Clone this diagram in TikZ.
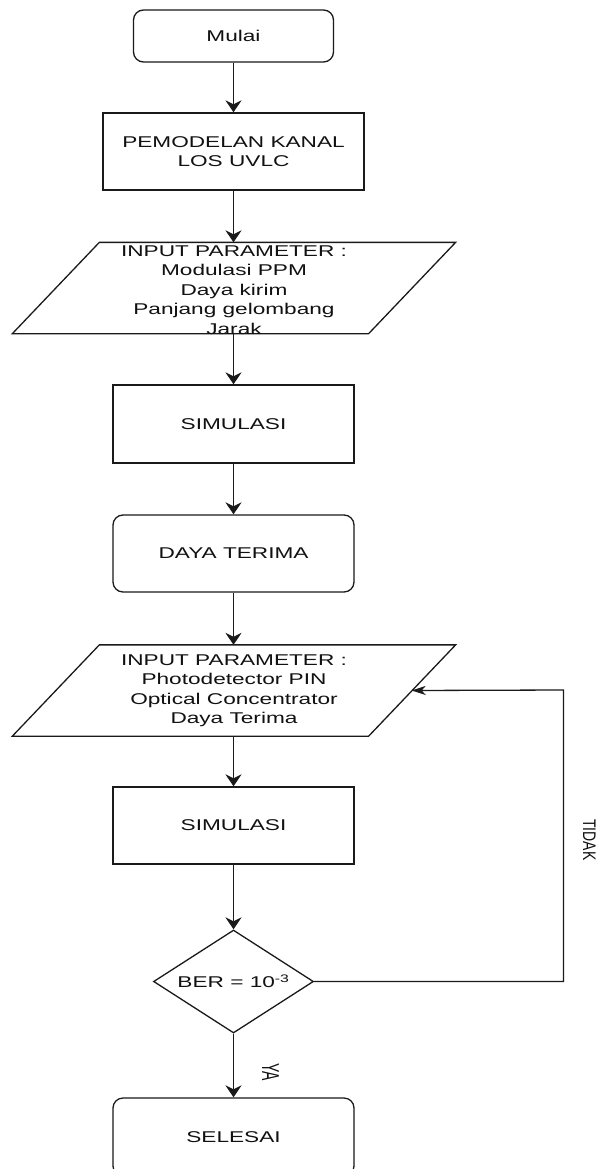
\documentclass[tikz,border=0pt]{standalone}
\usepackage{fontspec}
\setmainfont[FakeStretch=1.45]{Liberation Sans}
\newfontfamily\rotfont{Liberation Sans}
\usetikzlibrary{shapes.geometric,arrows.meta,calc}
\definecolor{ink}{HTML}{111111}
\definecolor{linec}{HTML}{1A1A1A}
\newcommand\mainsz{\fontsize{15.6}{19.5}\selectfont}
\newcommand\rotsz{\rotfont\fontsize{14}{14}\selectfont}
\begin{document}
\begin{tikzpicture}[x=1pt,y=-1pt,line width=1.3pt,
  box/.style={draw=linec,text=ink,minimum width=241pt,minimum height=77pt,inner sep=0pt,align=center,font=\mainsz},
  rbox/.style={box,rounded corners=10pt},
  pbox/.style={minimum width=442pt,minimum height=90pt,inner sep=0pt},
  ptxt/.style={text=ink,align=center,font=\mainsz,inner sep=0pt},
  dbox/.style={diamond,draw=linec,text=ink,aspect=1.55,minimum width=160pt,minimum height=103pt,inner sep=0pt,font=\mainsz},
  vflow/.style={draw=linec,-{Stealth[length=12pt,width=16pt,inset=4pt]}},
  hflow/.style={draw=linec,-{Stealth[length=14pt,width=9pt,inset=4pt]}},
  rlabel/.style={rotate=-90,anchor=base,inner sep=0pt,text=ink,font=\rotsz}]
\useasboundingbox (0,0) rectangle (598,1169);
\clip (0,0) rectangle (598,1169);
\fill[white] (0,0) rectangle (598,1169);

\node[rbox,minimum width=200pt,minimum height=52pt] (mulai) at (233.5,36) {Mulai};
\node[box,minimum width=261pt] (model) at (233.5,151.5) {PEMODELAN KANAL\\LOS UVLC};

\node[pbox] (in1) at (234,288) {};
\draw[draw=linec] ($(in1.north west)+(87,0)$) -- (in1.north east) -- ($(in1.south east)+(-87,0)$) -- (in1.south west) -- cycle;
\node[ptxt] (in1t) at (234,290) {INPUT PARAMETER :\\Modulasi PPM\\Daya kirim\\Panjang gelombang\\Jarak};

\node[box,minimum height=78pt] (sim1) at (233.5,424) {SIMULASI};
\node[rbox] (daya) at (233.5,553.5) {DAYA TERIMA};

\node[pbox] (in2) at (234,690.5) {};
\draw[draw=linec] ($(in2.north west)+(87,0)$) -- (in2.north east) -- ($(in2.south east)+(-87,0)$) -- (in2.south west) -- cycle;
\node[ptxt] (in2t) at (234,690.5) {INPUT PARAMETER :\\Photodetector PIN\\Optical Concentrator\\Daya Terima};
\coordinate (fb) at ($(in2.east)+(-44,0)$);

\node[box] (sim2) at (233.5,825.5) {SIMULASI};
\node[dbox] (dia) at (233.5,981.5) {BER = 10\textsuperscript{-3}};
\node[rbox,minimum height=78pt] (selesai) at (233.5,1137) {SELESAI};

\draw[vflow] (mulai.south) -- (model.north);
\draw[vflow] (model.south) -- (model.south |- in1.north);
\draw[vflow] (in1.south -| sim1.north) -- (sim1.north);
\draw[vflow] (sim1.south) -- (daya.north);
\draw[vflow] (daya.south) -- (daya.south |- in2.north);
\draw[vflow] (in2.south -| sim2.north) -- (sim2.north);
\draw[vflow] (sim2.south) -- (sim2.south |- dia.north);
\draw[vflow] (dia.south) -- (selesai.north);

\coordinate (c1) at (563.5,981.5);
\coordinate (c2) at (563.5,690);
\draw[hflow] (dia.east) -- (c1) -- (c2) -- (fb);

\node[rlabel] (tidak) at (583,840) {\scalebox{1}[1.3]{TIDAK}};
\node[rlabel] (ya) at (262,1072.5) {\scalebox{1}[1.75]{YA}};
\end{tikzpicture}
\end{document}
